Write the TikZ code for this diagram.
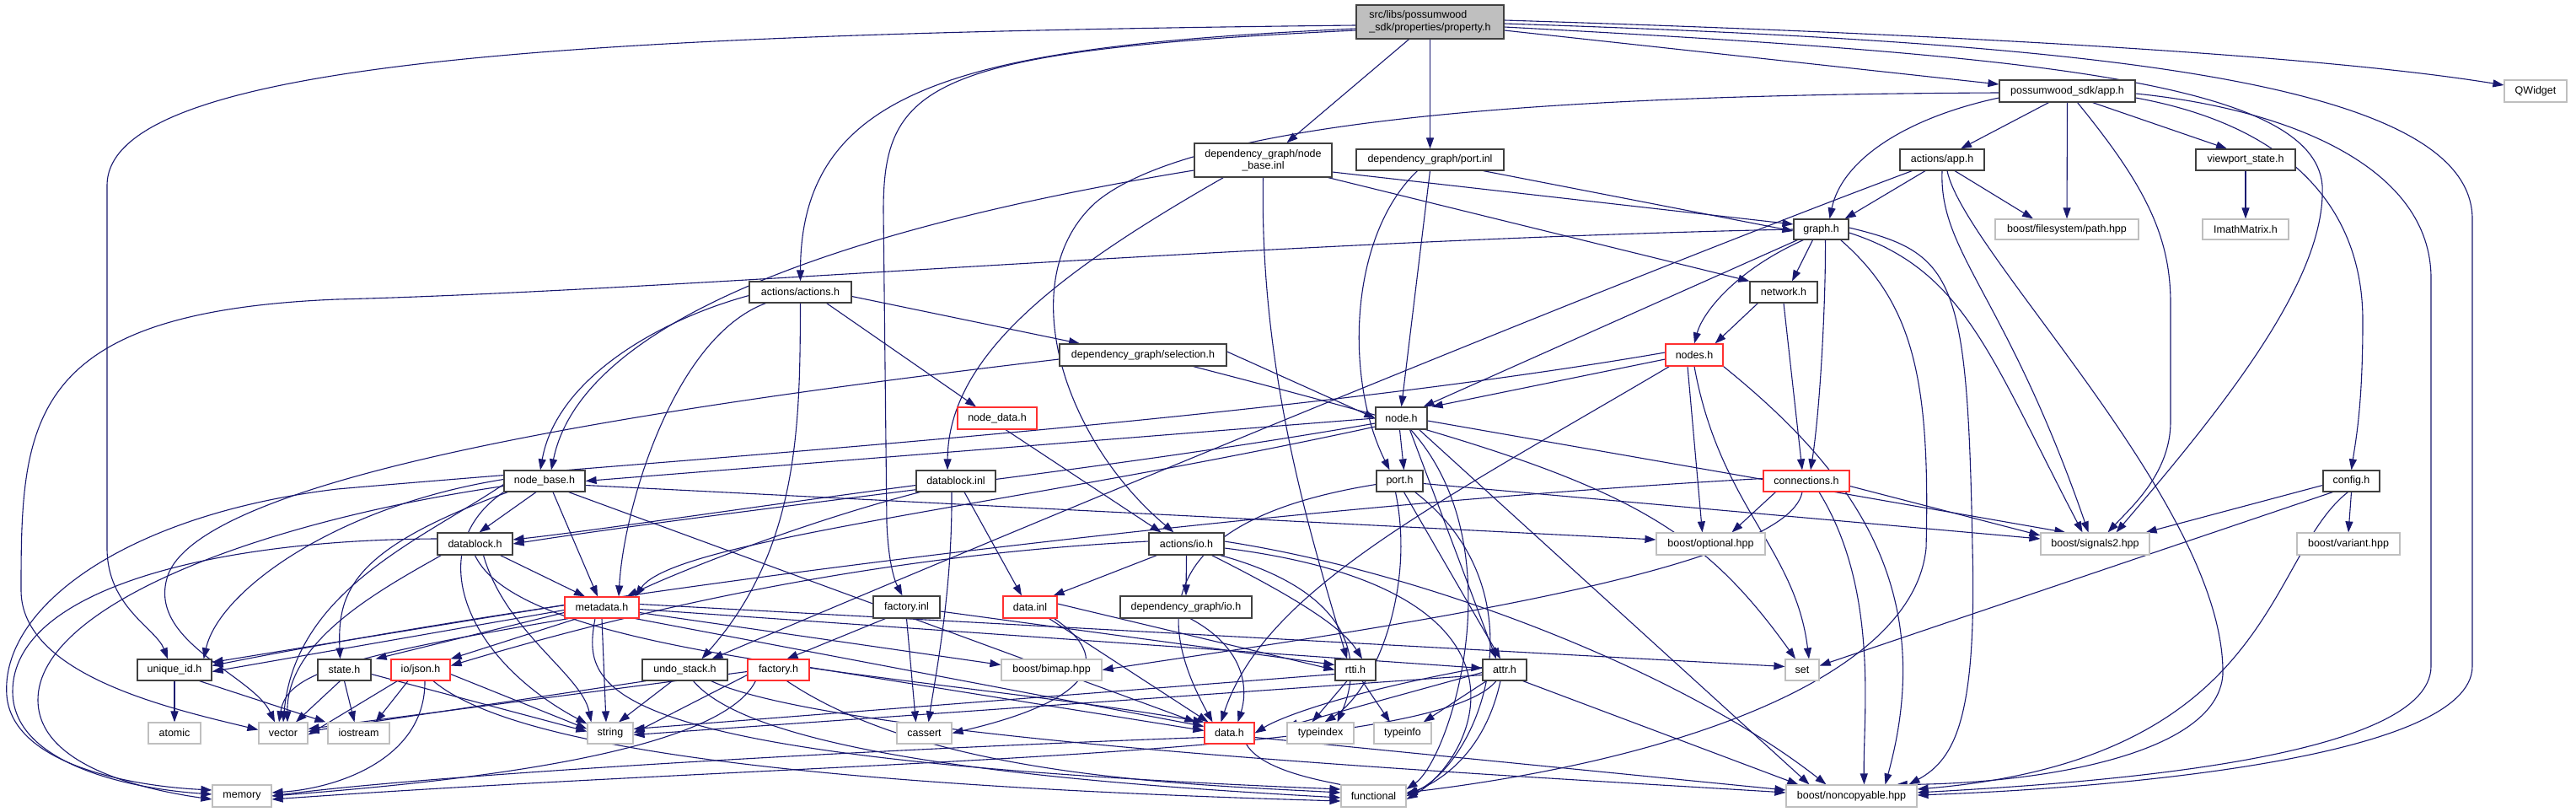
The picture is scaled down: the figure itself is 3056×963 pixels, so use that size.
\documentclass[tikz,border=0pt]{standalone}
\usepackage{fontspec}
\setmainfont{Liberation Sans}
\usetikzlibrary{arrows.meta,calc}
\definecolor{edgec}{HTML}{191970}
\definecolor{extc}{HTML}{BFBFBF}
\definecolor{rootc}{HTML}{BFBFBF}
\definecolor{docc}{HTML}{404040}
\definecolor{redc}{HTML}{FF3030}
\pgfdeclarelayer{back}
\pgfdeclarelayer{edges}
\pgfsetlayers{back,edges,main}
\newcommand\mknode[7]{\node[#1,minimum width=#5pt,minimum height=#6pt] (#2) at (#3,#4) {#7};}
\begin{document}
\begin{tikzpicture}[x=1pt,y=-1pt,
  every node/.style={font=\fontsize{12.5}{14.5}\selectfont},
  box/.style={rectangle,inner sep=0pt,line width=1.2pt,fill=white,align=center},
  doc/.style={box,draw=docc},
  rdoc/.style={box,draw=redc},
  ext/.style={box,draw=extc},
  root/.style={box,draw=docc,fill=rootc,align=left},
  edg/.style={draw=edgec,line width=1.1pt,-{Triangle[length=13pt,width=9pt]}}]
\begin{pgfonlayer}{back}
\fill[white] (0,0) rectangle (3056,963);
\end{pgfonlayer}
\useasboundingbox (0,0) rectangle (3056,963);
% nodes
\mknode{root}{P}{1696.5}{26}{175}{40}{src/libs/possumwood\\\_sdk/properties/property.h}
\mknode{doc}{NBI}{1498.5}{190}{163}{40}{dependency\_graph/node\\\_base.inl}
\mknode{doc}{PI}{1696.5}{189.5}{175}{25}{dependency\_graph/port.inl}
\mknode{doc}{AA}{949.5}{346.5}{121}{25}{actions/actions.h}
\mknode{doc}{APP}{2452.5}{108}{161}{26}{possumwood\_sdk/app.h}
\mknode{ext}{QW}{3008}{108}{74}{26}{QWidget}
\mknode{doc}{VS}{2664}{189.5}{118}{25}{viewport\_state.h}
\mknode{ext}{FS}{2452}{272}{170}{24}{boost/filesystem/path.hpp}
\mknode{ext}{IM}{2664}{272}{102}{24}{ImathMatrix.h}
\mknode{doc}{G}{2160.5}{272}{65}{24}{graph.h}
\mknode{doc}{AAPP}{2304}{189.5}{100}{25}{actions/app.h}
\mknode{doc}{NET}{2116}{346.5}{80}{25}{network.h}
\mknode{rdoc}{NDS}{2010}{421}{68}{26}{nodes.h}
\mknode{doc}{SEL}{1356}{421}{198}{26}{dependency\_graph/selection.h}
\mknode{doc}{N}{1662.5}{496}{61}{26}{node.h}
\mknode{rdoc}{ND}{1183}{496}{94}{26}{node\_data.h}
\mknode{doc}{PT}{1660.5}{570.5}{55}{25}{port.h}
\mknode{rdoc}{CON}{2143}{570.5}{102}{25}{connections.h}
\mknode{doc}{CFG}{2789.5}{570.5}{67}{25}{config.h}
\mknode{doc}{DBI}{1134}{570.5}{94}{25}{datablock.inl}
\mknode{doc}{NB}{646}{570.5}{96}{25}{node\_base.h}
\mknode{doc}{DB}{563.5}{645}{89}{26}{datablock.h}
\mknode{doc}{IO}{1407.5}{645}{89}{26}{actions/io.h}
\mknode{ext}{OPT}{2029.5}{645}{129}{26}{boost/optional.hpp}
\mknode{ext}{S2}{2485.5}{645}{129}{26}{boost/signals2.hpp}
\mknode{ext}{BV}{2786}{645}{122}{26}{boost/variant.hpp}
\mknode{rdoc}{MD}{714}{720.5}{88}{25}{metadata.h}
\mknode{doc}{FI}{1075.5}{720}{79}{26}{factory.inl}
\mknode{rdoc}{DI}{1222}{720}{64}{26}{data.inl}
\mknode{doc}{DGIO}{1407}{720}{156}{26}{dependency\_graph/io.h}
\mknode{doc}{UID}{207}{794.5}{88}{25}{unique\_id.h}
\mknode{doc}{ST}{408.5}{794.5}{63}{25}{state.h}
\mknode{rdoc}{JS}{499}{794.5}{70}{25}{io/json.h}
\mknode{doc}{US}{812.5}{794.5}{101}{25}{undo\_stack.h}
\mknode{rdoc}{FH}{923.5}{794.5}{73}{25}{factory.h}
\mknode{ext}{BM}{1247.5}{794.5}{119}{25}{boost/bimap.hpp}
\mknode{doc}{RT}{1608}{794.5}{48}{25}{rtti.h}
\mknode{doc}{AT}{1785}{794.5}{52}{25}{attr.h}
\mknode{ext}{SET}{2138}{794.5}{40}{25}{set}
\mknode{ext}{AM}{207}{869.5}{62}{25}{atomic}
\mknode{ext}{VEC}{336}{869.5}{58}{25}{vector}
\mknode{ext}{IOS}{425.5}{869.5}{73}{25}{iostream}
\mknode{ext}{STR}{724}{869.5}{54}{25}{string}
\mknode{ext}{CA}{1096.5}{869.5}{65}{25}{cassert}
\mknode{rdoc}{DH}{1458.5}{869.5}{59}{25}{data.h}
\mknode{ext}{TI}{1566.5}{869.5}{79}{25}{typeindex}
\mknode{ext}{TF}{1664}{869.5}{68}{25}{typeinfo}
\mknode{ext}{MEM}{287}{944}{70}{26}{memory}
\mknode{ext}{FN}{1629.5}{944}{77}{26}{functional}
\mknode{ext}{NC}{2196.5}{944}{155}{26}{boost/noncopyable.hpp}
\begin{pgfonlayer}{edges}
% property.h
\draw[edg] ($(P.west)+(0,4)$) .. controls (700,40) and (127,70) .. (127,220) -- (127,650) .. controls (127,720) and (185,745) .. ($(UID.north)+(-8,0)$);
\draw[edg] ($(P.west)+(0,8)$) .. controls (1150,55) and (950,100) .. (AA.north);
\draw[edg] ($(P.west)+(0,10)$) .. controls (1100,60) and (1048,100) .. (1048,250) -- (1052,620) .. controls (1054,670) and (1062,690) .. ($(FI.north)+(-5,0)$);
\draw[edg] ($(P.south)+(-25,0)$) -- ($(NBI.north)+(28,0)$);
\draw[edg] (P.south) -- (PI.north);
\draw[edg] ($(P.east)+(0,10)$) -- ($(APP.west)+(0,-8)$);
\draw[edg] ($(P.east)+(0,-2)$) .. controls (2300,40) and (2750,65) .. ($(QW.west)+(0,-7)$);
\draw[edg] ($(P.east)+(0,2)$) .. controls (2450,50) and (2933,90) .. (2933,260) -- (2933,790) .. controls (2933,900) and (2500,935) .. ($(NC.east)+(0,-1)$);
\draw[edg] ($(P.east)+(0,6)$) .. controls (2400,65) and (2745,95) .. (2755,220) .. controls (2760,330) and (2640,480) .. ($(S2.north)+(25,0)$);
% node_base.inl
\draw[edg] ($(NBI.west)+(0,12)$) .. controls (1000,270) and (690,380) .. ($(NB.north)+(8,0)$);
\draw[edg] ($(NBI.south west)+(35,0)$) .. controls (1260,320) and (1125,420) .. ($(DBI.north)+(-10,0)$);
\draw[edg] (NBI.south) .. controls (1494,450) and (1560,650) .. ($(RT.north)+(-10,0)$);
\draw[edg] ($(NBI.east)+(0,14)$) -- ($(G.west)+(0,-6)$);
\draw[edg] ($(NBI.south east)+(-5,0)$) -- (NET.north west);
% port.inl
\draw[edg] ($(PI.south east)+(-25,0)$) -- ($(G.west)+(0,2)$);
\draw[edg] (PI.south) -- (N.north);
\draw[edg] ($(PI.south)+(-15,0)$) .. controls (1600,280) and (1595,450) .. ($(PT.north)+(-12,0)$);
% possumwood_sdk/app.h
\draw[edg] ($(APP.west)+(0,8)$) .. controls (2260,140) and (2185,190) .. ($(G.north)+(10,0)$);
\draw[edg] ($(APP.south)+(-22,0)$) -- ($(AAPP.north)+(22,0)$);
\draw[edg] (APP.south) -- (FS.north);
\draw[edg] ($(APP.south)+(30,0)$) -- ($(VS.north)+(-22,0)$);
\draw[edg] ($(APP.south)+(12,0)$) .. controls (2545,220) and (2575,280) .. (2575,360) -- (2575,500) .. controls (2575,560) and (2530,600) .. ($(S2.north)+(15,0)$);
\draw[edg] ($(APP.east)+(0,8)$) .. controls (2720,150) and (2803,250) .. (2803,380) .. controls (2803,480) and (2795,520) .. (CFG.north);
\draw[edg] ($(APP.east)+(0,3)$) .. controls (2720,130) and (2884,200) .. (2884,330) -- (2884,790) .. controls (2884,905) and (2450,930) .. ($(NC.east)+(0,-4)$);
\draw[edg] ($(APP.west)+(0,2)$) .. controls (1950,112) and (1430,130) .. (1300,240) .. controls (1200,330) and (1260,520) .. ($(IO.north)+(-15,0)$);
% actions/app.h
\draw[edg] ($(AAPP.south)+(-20,0)$) -- ($(G.north east)+(-5,0)$);
\draw[edg] ($(AAPP.south)+(15,0)$) -- ($(FS.north)+(-40,0)$);
\draw[edg] ($(AAPP.south)+(0,0)$) .. controls (2300,300) and (2380,350) .. ($(S2.north)+(-8,0)$);
\draw[edg] ($(AAPP.south)+(6,0)$) .. controls (2330,300) and (2640,600) .. (2637,800) .. controls (2630,900) and (2400,930) .. ($(NC.north east)+(-25,0)$);
\draw[edg] ($(AAPP.south west)+(15,0)$) .. controls (1900,340) and (1200,630) .. ($(US.north)+(32,0)$);
% viewport / config
\draw[edg] (VS.south) -- (IM.north);
\draw[edg] ($(CFG.west)+(0,5)$) -- ($(S2.north east)+(-5,0)$);
\draw[edg] (CFG.south) -- (BV.north);
\draw[edg] ($(CFG.south west)+(12,0)$) -- ($(SET.east)+(0,-5)$);
\draw[edg] ($(CFG.south west)+(30,0)$) .. controls (2688,660) and (2700,900) .. ($(NC.east)+(0,-8)$);
% graph.h
\draw[edg] ($(G.south west)+(5,0)$) -- ($(N.north east)+(-5,0)$);
\draw[edg] ($(G.south)+(-10,0)$) -- ($(NET.north)+(10,0)$);
\draw[edg] ($(G.south west)+(12,0)$) .. controls (2060,320) and (2020,370) .. (NDS.north);
\draw[edg] ($(G.south)+(5,0)$) .. controls (2166,350) and (2160,480) .. ($(CON.north)+(5,0)$);
\draw[edg] ($(G.east)+(0,4)$) .. controls (2330,320) and (2360,420) .. ($(S2.north)+(-15,0)$);
\draw[edg] ($(G.east)+(0,-2)$) .. controls (2320,300) and (2334,330) .. (2340,650) .. controls (2345,850) and (2320,900) .. ($(NC.north east)+(-10,0)$);
\draw[edg] ($(G.south east)+(-10,0)$) .. controls (2270,360) and (2290,450) .. (2285,650) .. controls (2270,800) and (2000,900) .. ($(FN.east)+(0,-4)$);
\draw[edg] ($(G.west)+(0,0)$) .. controls (1500,285) and (800,345) .. (400,355) .. controls (30,370) and (25,500) .. (25,700) .. controls (25,800) and (200,840) .. ($(VEC.west)+(0,-4)$);
% network.h
\draw[edg] ($(NET.south west)+(10,0)$) -- ($(NDS.north east)+(-10,0)$);
\draw[edg] (NET.south) -- ($(CON.north)+(-5,0)$);
% nodes.h
\draw[edg] ($(NDS.west)+(0,5)$) -- ($(N.north east)+(5,0)$);
\draw[edg] ($(NDS.west)+(0,-3)$) .. controls (1500,500) and (800,545) .. (400,580) .. controls (150,610) and (0,720) .. (8,825) .. controls (15,905) and (150,932) .. ($(MEM.west)+(0,-7)$);
\draw[edg] ($(NDS.south)+(-8,0)$) -- ($(OPT.north)+(-10,0)$);
\draw[edg] (NDS.south) .. controls (2040,600) and (2130,650) .. ($(SET.north)+(8,0)$);
\draw[edg] (NDS.south east) .. controls (2200,560) and (2300,700) .. ($(NC.north)+(40,0)$);
\draw[edg] ($(NDS.south west)+(5,0)$) .. controls (1700,600) and (1500,700) .. ($(DH.north)+(-10,0)$);
% selection.h
\draw[edg] ($(SEL.east)+(0,-4)$) -- (N.west);
\draw[edg] ($(SEL.south east)+(-40,0)$) .. controls (1900,560) and (2000,600) .. ($(SET.north)+(-8,0)$);
\draw[edg] ($(SEL.west)+(0,5)$) .. controls (800,480) and (250,560) .. (200,680) .. controls (170,760) and (300,800) .. ($(VEC.north)+(-10,0)$);
% actions/actions.h
\draw[edg] ($(AA.west)+(0,4)$) .. controls (780,380) and (660,450) .. ($(NB.north)+(-5,0)$);
\draw[edg] ($(AA.south west)+(20,0)$) .. controls (800,400) and (740,600) .. ($(MD.north)+(20,0)$);
\draw[edg] (AA.south) .. controls (949,500) and (949,650) .. ($(US.north)+(20,0)$);
\draw[edg] ($(AA.east)+(0,5)$) -- ($(SEL.north)+(-75,0)$);
\draw[edg] ($(AA.south east)+(-30,0)$) -- ($(ND.north)+(-25,0)$);
% node_data.h
\draw[edg] ($(ND.south)+(10,0)$) -- ($(IO.north)+(-30,0)$);
% node.h
\draw[edg] (N.west) -- (NB.east);
\draw[edg] ($(N.west)+(0,6)$) .. controls (1300,560) and (900,600) .. (DB.east);
\draw[edg] ($(N.west)+(0,10)$) .. controls (1200,600) and (800,640) .. ($(MD.north east)+(-5,0)$);
\draw[edg] ($(N.south)+(-2,0)$) -- ($(PT.north)+(5,0)$);
\draw[edg] ($(N.south)+(10,0)$) -- ($(AT.north)+(-10,0)$);
\draw[edg] ($(N.south east)+(-20,0)$) .. controls (1800,650) and (1720,900) .. ($(FN.east)+(0,-8)$);
\draw[edg] ($(N.south east)+(-10,0)$) -- ($(NC.north)+(-50,0)$);
\draw[edg] ($(N.east)+(0,3)$) -- ($(S2.north west)+(30,0)$);
% port.h
\draw[edg] ($(PT.south)+(5,0)$) -- ($(AT.north)+(-5,0)$);
\draw[edg] ($(PT.south)+(-5,0)$) .. controls (1680,700) and (1630,820) .. ($(TI.north)+(5,0)$);
\draw[edg] ($(PT.south east)+(-10,0)$) .. controls (1830,700) and (1760,900) .. ($(FN.east)+(0,0)$);
\draw[edg] ($(PT.east)+(0,3)$) -- ($(S2.west)+(0,-6)$);
\draw[edg] ($(PT.west)+(0,4)$) .. controls (1350,620) and (1380,750) .. ($(DH.north)+(-20,0)$);
% connections.h
\draw[edg] ($(CON.south west)+(15,0)$) -- ($(OPT.north)+(25,0)$);
\draw[edg] ($(CON.south)+(-5,0)$) .. controls (2120,680) and (1600,750) .. (BM.east);
\draw[edg] ($(CON.south)+(15,0)$) .. controls (2230,700) and (2210,850) .. ($(NC.north)+(15,0)$);
\draw[edg] ($(CON.east)+(0,6)$) -- ($(S2.west)+(0,-10)$);
\draw[edg] ($(CON.west)+(0,-3)$) .. controls (1500,600) and (700,700) .. ($(UID.east)+(0,-5)$);
% datablock.inl
\draw[edg] ($(DBI.west)+(0,5)$) .. controls (900,600) and (700,630) .. ($(DB.east)+(0,-5)$);
\draw[edg] ($(DBI.south west)+(5,0)$) .. controls (950,620) and (800,680) .. ($(MD.north east)+(-15,0)$);
\draw[edg] ($(DBI.south)+(-5,0)$) .. controls (1130,700) and (1110,800) .. ($(CA.north)+(5,0)$);
\draw[edg] ($(DBI.south)+(10,0)$) -- ($(DI.north)+(-10,0)$);
% actions/io.h
\draw[edg] ($(IO.south west)+(10,0)$) -- ($(DI.north east)+(-5,0)$);
\draw[edg] (IO.south) -- (DGIO.north);
\draw[edg] ($(IO.south east)+(-15,0)$) .. controls (1520,700) and (1590,740) .. ($(RT.north)+(8,0)$);
\draw[edg] ($(IO.west)+(0,-3)$) .. controls (1000,660) and (700,740) .. ($(JS.east)+(0,-5)$);
\draw[edg] ($(IO.east)+(0,-3)$) .. controls (1700,680) and (2000,800) .. ($(NC.north)+(-30,0)$);
\draw[edg] ($(IO.east)+(0,5)$) .. controls (1850,700) and (1750,900) .. ($(FN.east)+(0,4)$);
\draw[edg] ($(IO.south east)+(-5,0)$) .. controls (1600,700) and (1620,780) .. ($(TI.north)+(20,0)$);
% data.inl, dependency_graph/io.h
\draw[edg] ($(DI.south east)+(-10,0)$) -- ($(DH.north)+(-25,0)$);
\draw[edg] ($(DI.south east)+(-4,0)$) .. controls (1320,780) and (1300,830) .. (CA.east);
\draw[edg] ($(DI.east)+(0,-4)$) -- (RT.west);
\draw[edg] ($(DGIO.south)+(5,0)$) .. controls (1480,770) and (1480,820) .. ($(DH.north)+(10,0)$);
% factory.inl, factory.h
\draw[edg] ($(FI.south west)+(15,0)$) -- ($(FH.north)+(10,0)$);
\draw[edg] (FI.south) -- ($(CA.north)+(-10,0)$);
\draw[edg] ($(FI.east)+(0,5)$) -- ($(RT.west)+(0,-6)$);
\draw[edg] ($(FH.west)+(0,6)$) -- (STR.east);
\draw[edg] ($(FH.south west)+(10,0)$) .. controls (850,900) and (500,930) .. (MEM.east);
\draw[edg] ($(FH.east)+(0,-3)$) -- ($(DH.west)+(0,-3)$);
\draw[edg] ($(FH.south)+(10,0)$) .. controls (1100,920) and (1400,930) .. ($(FN.west)+(0,-4)$);
\draw[edg] ($(FH.west)+(0,2)$) -- ($(VEC.east)+(0,-5)$);
% undo_stack.h
\draw[edg] ($(US.south west)+(5,0)$) -- ($(VEC.east)+(0,-2)$);
\draw[edg] ($(US.south)+(-15,0)$) -- ($(STR.north)+(10,0)$);
\draw[edg] ($(US.south)+(10,0)$) .. controls (900,900) and (1300,930) .. ($(FN.west)+(0,2)$);
\draw[edg] ($(US.south east)+(-20,0)$) .. controls (1000,880) and (1800,920) .. ($(NC.west)+(0,-4)$);
% io/json.h, state.h, unique_id.h
\draw[edg] ($(JS.south west)+(8,0)$) -- ($(VEC.east)+(0,2)$);
\draw[edg] ($(JS.south)+(-15,0)$) -- ($(IOS.north)+(20,0)$);
\draw[edg] ($(JS.east)+(0,5)$) -- ($(STR.west)+(0,-5)$);
\draw[edg] ($(JS.south)+(5,0)$) .. controls (505,900) and (400,935) .. ($(MEM.east)+(0,-4)$);
\draw[edg] ($(JS.south)+(15,0)$) .. controls (600,880) and (900,930) .. ($(FN.west)+(0,6)$);
\draw[edg] ($(ST.south)+(-5,0)$) -- ($(VEC.north)+(15,0)$);
\draw[edg] (ST.south) -- ($(IOS.north)+(-5,0)$);
\draw[edg] ($(ST.east)+(0,5)$) -- ($(STR.west)+(0,-2)$);
\draw[edg] (UID.south) -- (AM.north);
\draw[edg] ($(UID.south east)+(-15,0)$) -- ($(IOS.north west)+(-2,0)$);
% metadata.h
\draw[edg] ($(MD.west)+(0,-3)$) -- ($(UID.east)+(0,-9)$);
\draw[edg] ($(MD.west)+(0,3)$) -- ($(UID.east)+(0,2)$);
\draw[edg] ($(MD.west)+(0,6)$) -- ($(ST.north east)+(5,0)$);
\draw[edg] ($(MD.south west)+(5,0)$) .. controls (400,780) and (340,800) .. ($(VEC.north)+(-5,0)$);
\draw[edg] ($(MD.south)+(0,0)$) -- ($(STR.north)+(-5,0)$);
\draw[edg] ($(MD.south)+(-8,0)$) .. controls (690,820) and (700,900) .. ($(FN.west)+(0,-8)$);
\draw[edg] ($(MD.east)+(0,2)$) -- ($(AT.west)+(0,-2)$);
\draw[edg] ($(MD.east)+(0,-4)$) -- ($(SET.west)+(0,-4)$);
\draw[edg] ($(MD.east)+(0,6)$) -- ($(BM.west)+(0,-6)$);
\draw[edg] ($(MD.south east)+(-5,0)$) -- ($(DH.west)+(0,-8)$);
\draw[edg] ($(MD.south west)+(15,0)$) -- ($(JS.north east)+(0,0)$);
% datablock.h
\draw[edg] ($(DB.south west)+(5,0)$) .. controls (450,700) and (340,760) .. ($(VEC.north)+(5,0)$);
\draw[edg] ($(DB.west)+(0,-6)$) .. controls (250,640) and (15,700) .. (15,820) .. controls (15,905) and (150,935) .. ($(MEM.west)+(0,-2)$);
\draw[edg] ($(DB.south east)+(-15,0)$) -- ($(MD.north)+(-20,0)$);
\draw[edg] ($(DB.south)+(0,0)$) .. controls (620,780) and (1100,800) .. ($(DH.north west)+(0,0)$);
\draw[edg] ($(DB.south)+(10,0)$) .. controls (600,750) and (690,800) .. ($(STR.north west)+(5,0)$);
% node_base.h
\draw[edg] ($(NB.south)+(-10,0)$) -- ($(DB.north)+(5,0)$);
\draw[edg] ($(NB.south)+(10,0)$) -- ($(MD.north)+(-5,0)$);
\draw[edg] ($(NB.south west)+(5,0)$) .. controls (420,650) and (400,700) .. ($(ST.north)+(-5,0)$);
\draw[edg] ($(NB.west)+(0,-2)$) .. controls (400,600) and (260,700) .. ($(UID.north east)+(-10,0)$);
\draw[edg] ($(NB.west)+(0,4)$) .. controls (500,640) and (350,700) .. ($(VEC.north)+(0,0)$);
\draw[edg] ($(NB.west)+(0,6)$) .. controls (300,620) and (45,720) .. (45,830) .. controls (45,905) and (160,935) .. ($(MEM.west)+(0,4)$);
\draw[edg] ($(NB.south west)+(0,0)$) .. controls (500,650) and (550,780) .. ($(STR.north west)+(0,2)$);
\draw[edg] ($(NB.east)+(0,5)$) -- ($(OPT.west)+(0,-5)$);
\draw[edg] ($(NB.south east)+(-20,0)$) -- ($(DH.north west)+(-10,0)$);
% rtti.h, attr.h, data.h
\draw[edg] ($(RT.south)+(-10,0)$) -- ($(TI.north)+(-10,0)$);
\draw[edg] ($(RT.south)+(8,0)$) -- ($(TF.north)+(-15,0)$);
\draw[edg] ($(RT.west)+(0,5)$) -- ($(STR.east)+(0,-5)$);
\draw[edg] ($(AT.south west)+(5,0)$) -- ($(TF.north east)+(-10,0)$);
\draw[edg] ($(AT.west)+(0,3)$) -- ($(TI.north west)+(0,5)$);
\draw[edg] ($(AT.south)+(-5,0)$) .. controls (1760,900) and (1700,930) .. ($(FN.east)+(0,-2)$);
\draw[edg] ($(AT.west)+(0,6)$) -- ($(STR.east)+(0,2)$);
\draw[edg] ($(AT.south)+(-10,0)$) .. controls (1700,900) and (1000,900) .. ($(MEM.east)+(0,4)$);
\draw[edg] ($(AT.south east)+(-5,0)$) -- ($(NC.north west)+(15,0)$);
\draw[edg] ($(AT.west)+(0,-3)$) .. controls (1600,820) and (1520,850) .. (DH.east);
\draw[edg] ($(DH.west)+(0,5)$) .. controls (1000,890) and (500,920) .. ($(MEM.east)+(0,0)$);
\draw[edg] ($(DH.south east)+(-10,0)$) .. controls (1500,920) and (1600,930) .. ($(FN.west)+(0,-1)$);
\draw[edg] ($(DH.east)+(0,5)$) -- ($(NC.west)+(0,-7)$);
\end{pgfonlayer}
\end{tikzpicture}
\end{document}
